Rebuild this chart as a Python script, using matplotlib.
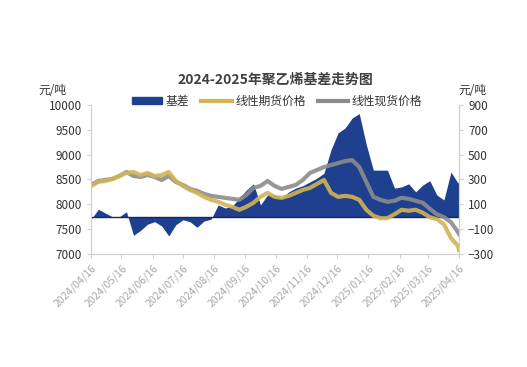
import pandas as pd
import matplotlib.pyplot as plt
import matplotlib.dates as mdates
from matplotlib.patches import Patch
from matplotlib.lines import Line2D

plt.rcParams['font.family'] = ['Noto Sans CJK SC', 'DejaVu Sans']

# weekly points, 2024/04/16 .. 2025/04/16
dates = list(pd.date_range('2024-04-16', periods=53, freq='7D')) + [pd.Timestamp('2025-04-16')]

spot = [8390, 8470, 8490, 8510, 8570, 8650, 8570, 8550, 8590, 8550,
        8490, 8570, 8450, 8390, 8310, 8270, 8210, 8170, 8150, 8130,
        8110, 8090, 8190, 8330, 8370, 8470, 8370, 8310, 8350, 8390,
        8490, 8630, 8690, 8750, 8790, 8830, 8870, 8890, 8750, 8450,
        8150, 8090, 8050, 8070, 8130, 8110, 8070, 8030, 7910, 7800,
        7740, 7640, 7440, 7400]

futures = [8370, 8450, 8470, 8510, 8570, 8630, 8650, 8590, 8630, 8570,
           8590, 8650, 8470, 8370, 8290, 8230, 8150, 8090, 8050, 7990,
           7950, 7890, 7950, 8030, 8150, 8230, 8150, 8130, 8170, 8230,
           8290, 8330, 8410, 8490, 8230, 8150, 8170, 8150, 8090, 7890,
           7770, 7720, 7720, 7800, 7890, 7870, 7890, 7830, 7740, 7700,
           7600, 7320, 7160, 7080]

basis = [-20, 60, 30, 0, 0, 40, -150, -110, -60, -40,
         -75, -155, -65, -25, -40, -85, -35, -20, 95, 70,
         85, 150, 215, 265, 95, 175, 175, 150, 200, 230,
         250, 280, 310, 350, 540, 675, 715, 795, 830, 580,
         375, 375, 375, 230, 240, 265, 200, 255, 290, 175,
         135, 360, 270, 295]

tick_labels = ['2024/04/16', '2024/05/16', '2024/06/16', '2024/07/16', '2024/08/16',
               '2024/09/16', '2024/10/16', '2024/11/16', '2024/12/16', '2025/01/16',
               '2025/02/16', '2025/03/16', '2025/04/16']
tick_dates = pd.to_datetime(tick_labels, format='%Y/%m/%d')

fig = plt.figure(figsize=(5.27, 3.67), dpi=100)
ax = fig.add_axes([0.173, 0.308, 0.698, 0.406])
ax2 = ax.twinx()
ax.set_zorder(ax2.get_zorder() + 1)
ax.patch.set_visible(False)

blue = '#1f3f8f'
gold = '#d2b455'
gray = '#8c8c8c'

ax2.fill_between(dates, basis, 0, color=blue, linewidth=0)
ax2.axhline(0, color='#1a2a55', lw=1.0)
ax.plot(dates, spot, color=gray, lw=3, alpha=0.9)
ax.plot(dates, futures, color=gold, lw=3, alpha=0.9)

ax.set_ylim(7000, 10000)
ax.set_yticks(range(7000, 10001, 500))
ax2.set_ylim(-300, 900)
ax2.set_yticks(range(-300, 901, 200))
ax.set_xlim(tick_dates[0], tick_dates[-1])
ax.set_xticks(tick_dates)
ax.set_xticklabels(tick_labels)

for a in (ax, ax2):
    a.spines['top'].set_visible(False)
    for s in ('left', 'right', 'bottom'):
        a.spines[s].set_color('#d0d0d0')
    a.tick_params(axis='y', labelsize=8.5, colors='#d0d0d0', labelcolor='#333333', length=3)
ax.tick_params(axis='x', labelsize=7.5, colors='#d0d0d0', labelcolor='#a8a8a8', length=3)
plt.setp(ax.get_xticklabels(), rotation=45, ha='right', rotation_mode='anchor')

fig.text(275 / 527, 1 - 80 / 367, '2024-2025年聚乙烯基差走势图', ha='center', va='center',
         fontsize=10, fontweight='bold', color='#404040')
fig.text(52 / 527, 1 - 91 / 367, '元/吨', ha='center', va='center', fontsize=8.5, color='#333333')
fig.text(472 / 527, 1 - 91 / 367, '元/吨', ha='center', va='center', fontsize=8.5, color='#333333')

handles = [Patch(color=blue), Line2D([], [], color=gold, lw=3), Line2D([], [], color=gray, lw=3)]
fig.legend(handles, ['基差', '线性期货价格', '线性现货价格'], loc='center',
           bbox_to_anchor=(277 / 527, 1 - 101 / 367), ncol=3, frameon=False, fontsize=8.5,
           handlelength=2.6, handleheight=0.5, handletextpad=0.3, columnspacing=1.0,
           labelcolor='#333333')

fig.savefig('out.png', dpi=100)
